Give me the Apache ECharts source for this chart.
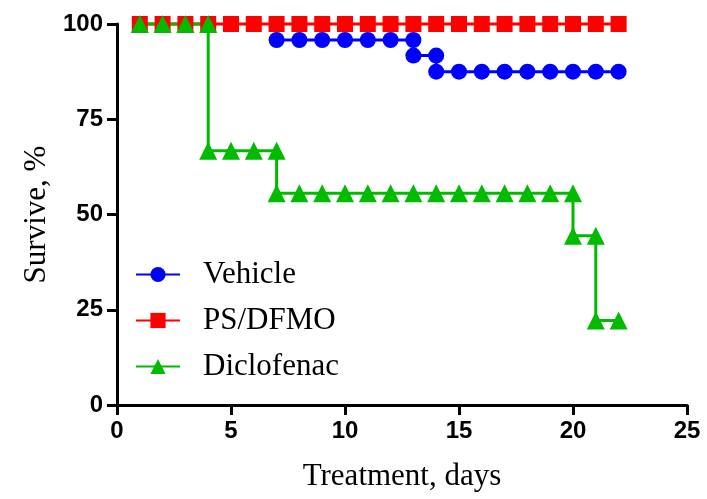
<!DOCTYPE html>
<html>
<head>
<meta charset="utf-8">
<script src="https://cdn.jsdelivr.net/npm/echarts@6/dist/echarts.min.js"></script>
<style>html,body{margin:0;padding:0;background:#fff}#c{width:707px;height:499px}</style>
</head>
<body>
<div id="c"></div>
<script>
var vehicleDays = [7,8,9,10,11,12,13,13,14,14,15,16,17,18,19,20,21,22];
var vehicleSurv = [95.8,95.8,95.8,95.8,95.8,95.8,95.8,91.7,91.7,87.5,87.5,87.5,87.5,87.5,87.5,87.5,87.5,87.5];
var psDays = [1,2,3,4,5,6,7,8,9,10,11,12,13,14,15,16,17,18,19,20,21,22];
var psSurv = [100,100,100,100,100,100,100,100,100,100,100,100,100,100,100,100,100,100,100,100,100,100];
var diclDays = [1,2,3,4,4,5,6,7,7,8,9,10,11,12,13,14,15,16,17,18,19,20,20,21,21,22];
var diclSurv = [100,100,100,100,66.7,66.7,66.7,66.7,55.6,55.6,55.6,55.6,55.6,55.6,55.6,55.6,55.6,55.6,55.6,55.6,55.6,55.6,44.4,44.4,22.2,22.2];
var seriesNames = ['Vehicle','PS/DFMO','Diclofenac'];
var xTicks = [0,5,10,15,20,25];
var yTicks = [0,25,50,75,100];

function pairs(xs, ys){ return xs.map(function(x,i){ return [x, ys[i]]; }); }

var chart = echarts.init(document.getElementById('c'), null, {renderer:'canvas'});
var tickFont = {fontFamily:'Liberation Sans', fontWeight:'bold', fontSize:24, color:'#000'};
var axisLine = {show:true, onZero:false, lineStyle:{color:'#000', width:3}};
chart.setOption({
  animation:false,
  backgroundColor:'#fff',
  grid:{left:117, right:20, top:24, bottom:94, containLabel:false},
  xAxis:{type:'value', min:xTicks[0], max:xTicks[xTicks.length-1], interval:5,
    axisLine:axisLine, axisTick:{show:true, length:10, lineStyle:{color:'#000', width:3}},
    splitLine:{show:false}, axisLabel:Object.assign({margin:14}, tickFont),
    name:'Treatment, days', nameLocation:'middle', nameGap:56,
    nameTextStyle:{fontFamily:'Liberation Serif', fontSize:31, color:'#000'}},
  yAxis:{type:'value', min:yTicks[0], max:yTicks[yTicks.length-1], interval:25,
    axisLine:axisLine, axisTick:{show:true, length:10, lineStyle:{color:'#000', width:3}},
    splitLine:{show:false}, axisLabel:Object.assign({margin:14}, tickFont),
    name:'Survive, %', nameLocation:'middle', nameGap:64,
    nameTextStyle:{fontFamily:'Liberation Serif', fontSize:31, color:'#000'}},
  legend:{orient:'vertical', left:130, top:254, itemWidth:44, itemHeight:19, itemGap:15,
    data:seriesNames,
    textStyle:{fontFamily:'Liberation Serif', fontSize:31, color:'#000', lineHeight:30, padding:[0,0,0,18]}},
  series:[
    {name:seriesNames[0], type:'line', data:pairs(vehicleDays, vehicleSurv), symbol:'circle', symbolSize:16,
      clip:false, color:'#0000ff', lineStyle:{width:3, color:'#0000ff'}, itemStyle:{color:'#0000ff'}},
    {name:seriesNames[1], type:'line', data:pairs(psDays, psSurv), symbol:'rect', symbolSize:16,
      clip:false, color:'#ff0000', lineStyle:{width:3, color:'#ff0000'}, itemStyle:{color:'#ff0000'}},
    {name:seriesNames[2], type:'line', data:pairs(diclDays, diclSurv), symbol:'triangle', symbolSize:18,
      clip:false, color:'#00bb00', lineStyle:{width:3, color:'#00bb00'}, itemStyle:{color:'#00bb00'}}
  ]
});
</script>
</body>
</html>
